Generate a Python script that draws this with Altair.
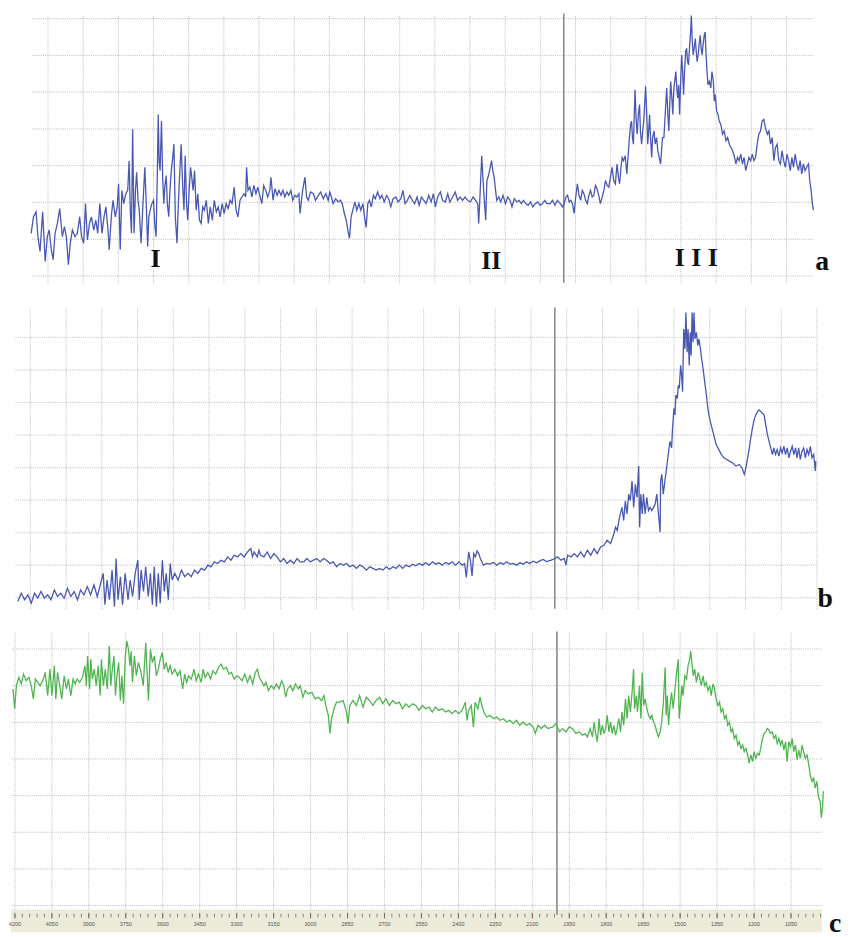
import altair as alt
import pandas as pd

# ---------------- spectrum a : (wavenumber cm-1, absorbance a.u.) ----------------
SPEC_A = [
    (4272,129),(4262,179),(4251,194),(4243,119),(4234,74),(4223,194),(4212,44),(4203,119),(4195,139),(4186,79),
    (4178,49),(4170,129),(4160,159),(4150,204),(4139,119),(4130,149),(4122,119),(4113,34),(4105,99),(4096,139),
    (4085,119),(4075,129),(4065,179),(4057,119),(4048,99),(4040,219),(4032,109),(4023,159),(4015,179),(4005,139),
    (3996,169),(3988,129),(3979,219),(3970,129),(3961,179),(3953,209),(3944,139),(3939,79),(3930,179),(3923,229),
    (3913,179),(3905,209),(3899,279),(3892,79),(3885,259),(3877,219),(3868,249),(3860,259),(3854,349),(3849,199),
    (3844,129),(3839,444),(3833,129),(3827,259),(3822,314),(3816,229),(3811,199),(3803,99),(3795,219),(3787,329),
    (3781,219),(3775,89),(3770,179),(3764,199),(3757,219),(3750,229),(3744,149),(3739,119),(3734,299),(3730,489),
    (3726,349),(3722,319),(3716,469),(3711,299),(3706,219),(3702,269),(3696,304),(3691,219),(3685,179),(3680,259),
    (3674,319),(3668,359),(3663,399),(3657,179),(3650,99),(3644,219),(3639,299),(3632,399),(3626,279),(3620,199),
    (3615,364),(3609,219),(3604,169),(3598,259),(3592,329),(3587,299),(3581,259),(3575,319),(3568,199),(3561,249),
    (3554,169),(3547,159),(3540,209),(3533,199),(3525,229),(3516,159),(3508,209),(3499,169),(3491,229),(3482,194),
    (3474,209),(3466,179),(3457,219),(3449,189),(3440,219),(3432,204),(3423,229),(3415,219),(3406,269),(3398,199),
    (3390,179),(3381,229),(3373,239),(3364,249),(3357,239),(3353,329),(3347,259),(3339,269),(3330,239),(3322,274),
    (3313,249),(3305,269),(3297,244),(3288,219),(3280,274),(3271,259),(3263,239),(3254,259),(3249,299),(3240,229),
    (3232,264),(3223,244),(3215,259),(3206,244),(3198,259),(3190,239),(3181,254),(3173,244),(3164,259),(3156,229),
    (3147,244),(3139,239),(3130,249),
    (3125,189),(3114,259),(3104,299),(3097,239),(3090,229),(3080,254),(3068,249),(3059,229),(3047,244),(3037,254),
    (3026,234),(3015,249),(3005,229),(2998,254),(2991,239),(2984,219),(2973,234),(2963,224),(2953,229),(2945,219),
    (2936,189),(2928,169),(2921,139),(2914,114),(2907,179),(2900,199),(2891,224),(2883,199),(2874,219),(2866,199),
    (2857,219),(2850,179),(2843,147),(2836,219),(2829,229),(2821,209),(2812,244),(2804,234),(2794,254),(2784,234),
    (2776,244),(2766,224),(2756,244),(2747,234),(2738,209),(2728,234),(2716,239),(2707,224),(2695,234),(2686,259),
    (2677,219),(2667,229),(2657,244),(2646,229),(2636,219),(2626,239),(2617,214),(2607,239),(2597,229),(2587,219),
    (2576,244),(2566,224),(2556,249),(2548,209),(2538,239),(2526,254),(2517,229),(2505,224),(2495,249),(2486,224),
    (2474,239),(2463,254),(2453,229),(2442,239),(2432,229),(2421,239),(2410,229),(2398,224),(2387,239),(2376,229),
    (2367,219),(2363,159),(2357,249),(2350,364),(2345,299),(2339,229),(2333,169),(2328,289),(2321,304),(2314,329),
    (2308,349),(2303,319),(2297,299),(2291,259),(2286,229),(2277,239),(2269,224),(2259,244),(2249,219),(2239,239),
    (2229,229),(2221,209),(2211,234),(2201,224),(2191,229),(2181,219),(2172,229),(2162,219),(2152,214),(2142,224),
    (2132,209),(2122,219),(2111,224),(2101,214),(2091,219),(2081,229),(2072,219),
    (2058,219),(2048,229),(2038,214),(2027,229),(2015,219),(2005,209),(1998,219),(1991,239),(1984,244),(1977,224),
    (1970,229),(1963,219),(1956,189),(1949,239),(1942,279),(1935,244),(1928,229),(1921,259),(1914,249),(1907,229),
    (1900,219),(1893,244),(1886,259),(1879,239),(1872,244),(1865,274),(1858,264),(1851,244),(1844,219),(1836,239),
    (1829,259),(1822,289),(1815,274),(1808,269),(1801,299),(1794,329),(1787,289),(1780,279),(1773,339),(1767,299),
    (1762,279),(1756,329),(1751,359),(1745,349),(1738,364),(1731,309),(1725,369),(1720,419),(1715,459),(1711,469),
    (1707,419),(1703,399),(1698,519),(1696,564),(1691,469),(1687,429),(1682,489),(1677,519),(1673,439),(1668,399),
    (1663,439),(1659,469),(1655,519),(1651,574),(1646,489),(1642,399),(1638,439),(1634,489),(1630,419),(1625,359),
    (1621,419),(1615,439),(1610,399),(1604,419),(1599,379),(1593,359),(1587,339),(1583,379),(1579,419),(1573,419),
    (1569,469),(1565,519),(1561,569),(1556,489),(1552,439),(1548,519),(1544,589),(1539,539),(1535,489),(1531,559),
    (1527,589),(1522,619),(1518,569),(1514,539),(1510,579),(1506,489),(1501,599),(1497,669),(1493,619),(1489,549),
    (1485,619),(1480,679),(1476,689),(1472,649),(1468,639),(1463,699),(1459,739),(1456,789),(1452,709),(1448,669),
    (1444,689),(1439,719),(1435,679),(1431,649),(1427,669),(1423,699),(1418,729),(1414,689),(1410,669),(1406,699),
    (1401,729),(1397,739),(1393,669),(1389,619),(1385,579),(1379,589),(1373,569),(1368,619),(1362,589),(1358,529),
    (1354,549),(1348,499),(1342,489),(1337,469),(1330,459),(1323,429),(1316,439),(1308,409),(1301,419),(1294,399),
    (1287,389),(1280,379),(1273,364),(1266,339),(1259,359),(1252,349),(1245,369),(1238,339),(1231,359),(1224,319),
    (1217,339),(1210,359),(1203,349),(1196,369),(1189,349),(1182,359),(1175,399),(1168,429),(1161,439),(1154,469),
    (1147,474),(1140,449),(1132,429),(1125,439),(1118,399),(1111,419),(1104,349),(1097,389),(1090,399),(1083,349),
    (1076,339),(1069,379),(1062,349),(1055,329),(1048,369),(1041,349),(1034,319),(1027,359),(1020,329),(1013,369),
    (1006,339),(999,319),(992,349),(985,309),(978,339),(971,319),(964,329),(956,339),(951,289),(945,259),
    (940,219),(935,199),
]

# ---------------- spectrum b ----------------
SPEC_B = [
    (4252,-11),(4238,14),(4224,-6),(4210,9),(4196,-16),(4182,14),(4169,-1),(4155,19),(4141,-1),(4127,9),
    (4113,-6),(4099,24),(4086,4),(4072,14),(4058,-1),(4044,29),(4030,4),(4016,19),(4002,-6),(3989,24),
    (3975,9),(3961,34),(3947,9),(3933,39),(3919,4),(3905,44),(3894,74),(3887,-21),(3878,54),(3868,-6),
    (3857,84),(3847,-27),(3840,119),(3832,-6),(3822,64),(3813,-21),(3802,74),(3790,-6),(3781,54),(3771,4),
    (3760,74),(3749,114),(3743,-6),(3735,84),(3725,19),(3716,94),(3705,4),(3696,74),(3688,-21),(3680,94),
    (3671,-27),(3663,74),(3655,-16),(3646,114),(3638,19),(3630,74),(3621,-6),(3613,104),(3605,54),(3594,74),
    (3580,54),(3566,84),(3552,64),(3538,74),(3525,64),(3511,84),(3497,74),(3483,89),(3469,84),(3455,99),
    (3442,94),(3428,109),(3414,104),(3400,114),(3386,109),(3372,124),(3358,114),(3345,129),(3331,124),(3317,134),
    (3303,124),(3289,139),(3275,149),(3268,124),(3261,139),(3248,124),(3241,144),(3234,129),(3220,124),(3206,139),
    (3192,119),(3178,134),(3165,124),(3151,109),(3137,119),(3123,104),(3109,114),(3095,104),(3081,119),(3068,109),
    (3053,109),(3040,119),(3026,109),(3012,114),(2998,119),(2984,109),(2970,119),(2957,114),(2943,104),(2929,109),
    (2915,94),(2901,104),(2887,99),(2873,104),(2860,94),(2846,99),(2832,89),(2818,99),(2804,94),(2790,84),
    (2776,94),(2763,89),(2749,84),(2735,89),(2721,84),(2707,94),(2693,86),(2679,94),(2666,89),(2652,99),
    (2638,89),(2624,99),(2610,94),(2596,102),(2583,97),(2569,104),(2555,99),(2541,106),(2527,99),(2513,109),
    (2499,102),(2486,106),(2472,99),(2458,107),(2444,102),(2430,109),(2416,99),(2402,109),(2389,99),(2378,104),
    (2371,62),(2361,139),(2354,114),(2347,66),(2340,134),(2333,124),(2326,142),(2319,134),(2312,119),(2306,109),
    (2299,99),(2285,104),(2271,102),(2257,107),(2243,99),(2229,106),(2215,102),(2202,109),(2188,102),(2174,104),
    (2160,99),(2146,106),(2132,102),(2119,109),(2105,104),(2091,111),(2077,106),(2063,112),(2049,116),(2035,110),
    (2015,114),(1999,119),(1988,124),(1974,114),(1960,119),(1953,99),(1946,129),(1932,124),(1918,134),(1905,124),
    (1891,139),(1877,124),(1863,144),(1849,129),(1835,149),(1822,134),(1808,154),(1794,159),(1780,174),(1766,164),
    (1752,194),(1745,214),(1738,204),(1731,234),(1725,254),(1718,274),(1711,234),(1704,294),(1697,254),(1690,314),
    (1683,294),(1676,354),(1669,274),(1662,344),(1655,304),(1648,399),(1644,214),(1639,314),(1633,254),(1628,314),
    (1621,254),(1614,304),(1607,264),(1600,274),(1593,264),(1586,274),(1579,284),(1572,314),(1565,254),(1558,199),
    (1556,354),(1551,374),(1545,314),(1538,354),(1531,394),(1524,434),(1517,474),(1510,454),(1506,514),(1500,574),
    (1496,554),(1492,614),(1486,604),(1482,644),(1478,634),(1472,704),(1468,674),(1464,624),(1459,814),(1454,754),
    (1450,864),(1445,744),(1441,814),(1436,704),(1432,804),(1428,734),(1424,864),(1420,774),(1416,864),(1412,784),
    (1406,804),(1400,764),(1395,784),(1389,754),(1384,724),(1378,694),(1371,654),(1364,614),(1358,574),(1351,544),
    (1344,524),(1337,504),(1330,484),(1323,464),(1312,449),(1301,434),(1290,424),(1279,419),(1268,414),(1254,409),
    (1240,399),(1226,404),(1215,394),(1205,374),(1198,394),(1191,424),(1184,454),(1178,484),(1171,514),(1164,539),
    (1157,554),(1150,564),(1143,569),(1136,564),(1129,559),(1122,554),(1115,524),(1108,494),(1101,474),(1094,454),
    (1087,434),(1081,454),(1074,434),(1067,449),(1060,429),(1053,454),(1046,439),(1039,459),(1032,434),(1025,454),
    (1018,424),(1011,444),(1004,459),(997,434),(990,454),(984,424),(977,454),(970,419),(963,444),(956,454),
    (949,424),(942,449),(935,434),(928,459),(921,424),(914,434),(907,384),(905,414),
]

# ---------------- spectrum c ----------------
SPEC_C = [
    (4208,656),(4201,596),(4194,666),(4184,691),(4174,671),(4165,701),(4154,681),(4143,691),(4134,666),(4125,626),
    (4117,686),(4107,676),(4098,666),(4087,681),(4077,706),(4067,636),(4058,716),(4050,636),(4040,726),(4034,626),
    (4027,706),(4018,666),(4010,626),(4000,696),(3991,656),(3983,686),(3973,636),(3964,686),(3956,671),(3947,686),
    (3937,676),(3926,691),(3916,726),(3910,666),(3905,756),(3897,656),(3892,746),(3886,686),(3878,716),(3870,666),
    (3862,726),(3854,636),(3849,746),(3841,666),(3833,716),(3825,656),(3817,786),(3811,666),(3806,706),(3798,756),
    (3792,636),(3786,696),(3779,736),(3772,621),(3766,696),(3759,611),(3752,756),(3746,801),(3739,776),(3733,726),
    (3728,771),(3723,676),(3715,756),(3707,696),(3699,736),(3688,706),(3679,666),(3669,796),(3664,716),(3658,621),
    (3650,776),(3642,736),(3634,756),(3626,696),(3618,716),(3610,746),(3602,766),(3594,716),(3586,736),(3578,706),
    (3570,726),(3562,701),(3551,716),(3540,696),(3530,711),(3519,656),(3511,701),(3503,676),(3495,696),(3484,686),
    (3473,716),(3464,681),(3455,701),(3444,676),(3436,716),(3428,691),(3417,706),(3406,686),(3396,711),(3385,701),
    (3374,721),(3364,731),(3353,716),(3342,721),(3331,701),(3321,706),(3310,686),(3299,696),(3289,691),(3278,681),
    (3267,701),(3256,676),(3246,696),(3235,671),(3224,706),(3216,716),(3208,691),(3200,681),(3189,666),(3181,676),
    (3171,651),(3160,666),(3149,656),(3139,671),(3128,656),(3117,681),(3109,666),(3101,631),(3093,656),(3082,666),
    (3072,651),(3061,671),(3050,656),(3042,666),
    (3031,631),(3022,651),(3009,641),(2995,646),(2982,626),(2968,631),(2955,621),(2946,636),(2938,606),(2928,576),
    (2921,521),(2915,566),(2905,596),(2895,616),(2881,616),(2868,621),(2854,586),(2848,551),(2841,606),(2828,621),
    (2814,606),(2801,636),(2787,601),(2774,631),(2761,621),(2747,606),(2734,621),(2720,631),(2707,611),(2694,626),
    (2680,606),(2667,621),(2653,611),(2640,616),(2627,596),(2613,611),(2600,601),(2586,611),(2573,606),(2560,591),
    (2546,606),(2533,596),(2519,601),(2506,586),(2493,601),(2479,591),(2466,596),(2452,586),(2439,591),(2426,581),
    (2412,591),(2399,581),(2385,591),(2372,616),(2365,561),(2359,591),(2348,606),(2339,541),(2332,616),(2321,596),
    (2312,631),(2305,606),(2294,581),(2284,571),(2272,576),(2258,566),(2245,571),(2231,561),(2218,566),(2204,556),
    (2191,561),(2178,551),(2164,561),(2151,546),(2138,556),(2124,546),(2111,551),(2097,541),(2088,521),(2077,546),
    (2064,536),(2050,546),(2037,536),
    (2017,541),(2004,551),(1990,526),(1977,536),(1963,526),(1950,541),(1937,536),(1923,521),(1910,526),(1896,516),
    (1887,521),(1876,511),(1865,536),(1856,511),(1849,556),(1843,521),(1836,496),(1829,566),(1823,516),(1816,546),
    (1809,521),(1803,536),(1796,576),(1789,526),(1782,556),(1776,521),(1769,546),(1762,516),(1756,536),(1749,566),
    (1742,526),(1736,586),(1729,546),(1722,626),(1715,566),(1709,636),(1702,586),(1695,646),(1689,716),(1685,596),
    (1678,636),(1673,586),(1665,666),(1659,566),(1654,706),(1648,606),(1642,626),(1635,596),(1628,576),(1622,566),
    (1615,576),(1608,556),(1602,546),(1595,526),(1588,511),(1581,526),(1575,556),(1568,616),(1561,721),(1557,576),
    (1552,636),(1547,546),(1541,606),(1535,646),(1528,596),(1521,656),(1514,706),(1508,746),(1504,566),(1498,616),
    (1493,666),(1488,636),(1481,696),(1474,686),(1468,726),(1461,746),(1457,771),(1451,726),(1447,696),(1441,716),
    (1434,676),(1427,706),(1421,691),(1414,666),(1407,696),(1401,666),(1394,676),(1387,651),(1380,666),(1374,636),
    (1367,671),(1360,656),(1354,626),(1347,606),(1340,616),(1334,586),(1327,596),(1320,566),(1313,576),(1307,546),
    (1300,556),(1293,526),(1287,536),(1280,506),(1273,516),(1266,486),(1260,496),(1253,476),(1246,486),(1240,466),
    (1233,476),(1226,456),(1220,431),(1213,456),(1206,436),(1200,466),(1193,446),(1186,461),(1179,456),(1173,476),
    (1166,506),(1159,521),(1153,526),(1146,536),(1139,531),(1133,521),(1126,526),(1119,506),(1112,516),(1106,491),
    (1099,506),(1092,486),(1086,501),(1079,471),(1072,496),(1066,436),(1059,496),(1052,481),(1045,506),(1039,466),
    (1032,486),(1025,441),(1019,471),(1012,446),(1005,486),(999,466),(992,446),(985,456),(978,426),(972,396),
    (965,376),(958,386),(952,356),(945,376),(938,326),(932,316),(927,266),(922,296),(919,346),
]

# ---------------- axis / grid values ----------------
TICK_LABELS = [4200, 4050, 3900, 3750, 3600, 3450, 3300, 3150, 3000, 2850, 2700,
               2550, 2400, 2250, 2100, 1950, 1800, 1650, 1500, 1350, 1200, 1050]
MINOR_STEP = 30
MARKER_WN = 2000
GRID_I_A = [0, 111, 223, 334, 445, 557, 668, 779]
GRID_I_B = [0, 99, 197, 296, 394, 493, 592, 690, 789]
GRID_I_C = [0, 111, 222, 333, 444, 555, 666, 777]
ROMAN = ["I", "II", "I I I"]
ROMAN_WN = [3741, 2309, 1435]
ROMAN_I = [27, 21, 30]

BLUE = "#4858b2"
GREEN = "#50b450"
GRID_COLOR = "#b8b8b8"
MARK_COLOR = "#8a8a8a"
BAND_COLOR = "#ecead9"
W = 840


def make_panel(spec, color, xdom, ydom, height, frame_x, frame_y, grid_wn, grid_i,
               marker_y, letter, letter_pos, extra_front=None, extra_back=None):
    xs = alt.Scale(domain=[min(xdom), max(xdom)], reverse=True, nice=False, zero=False)
    ys = alt.Scale(domain=list(ydom), nice=False, zero=False)

    def X(f):
        return alt.X(f"{f}:Q", scale=xs, axis=None)

    def Y(f):
        return alt.Y(f"{f}:Q", scale=ys, axis=None)

    hdf = pd.DataFrame({"i": grid_i, "x0": frame_x[0], "x1": frame_x[1]})
    vdf = pd.DataFrame({"wn": grid_wn, "y0": frame_y[0], "y1": frame_y[1]})
    mdf = pd.DataFrame({"wn": [MARKER_WN], "y0": [marker_y[0]], "y1": [marker_y[1]]})
    sdf = pd.DataFrame({"wn": [p[0] for p in spec], "v": [p[1] for p in spec],
                        "idx": list(range(len(spec)))})
    ldf = pd.DataFrame({"t": [letter], "wn": [letter_pos[0]], "v": [letter_pos[1]]})

    layers = []
    if extra_back is not None:
        layers += extra_back(X, Y)
    layers.append(alt.Chart(hdf).mark_rule(color=GRID_COLOR, strokeWidth=1, strokeDash=[1, 1.2])
                  .encode(x=X("x0"), x2="x1", y=Y("i")))
    layers.append(alt.Chart(vdf).mark_rule(color=GRID_COLOR, strokeWidth=1, strokeDash=[1, 1.2])
                  .encode(x=X("wn"), y=Y("y0"), y2="y1"))
    layers.append(alt.Chart(mdf).mark_rule(color=MARK_COLOR, strokeWidth=1.6)
                  .encode(x=X("wn"), y=Y("y0"), y2="y1"))
    layers.append(alt.Chart(sdf).mark_line(color=color, strokeWidth=1.3)
                  .encode(x=X("wn"), y=Y("v"), order="idx:Q"))
    if extra_front is not None:
        layers += extra_front(X, Y)
    layers.append(alt.Chart(ldf).mark_text(font="Liberation Serif", fontWeight="bold", fontSize=28,
                                           align="center", baseline="alphabetic", color="#111")
                  .encode(x=X("wn"), y=Y("v"), text="t:N"))
    return alt.layer(*layers).properties(width=W, height=height)


def roman_layer(X, Y):
    rdf = pd.DataFrame({"t": ROMAN, "wn": ROMAN_WN, "v": ROMAN_I})
    return [alt.Chart(rdf).mark_text(font="Liberation Serif", fontWeight="bold", fontSize=26,
                                     align="center", baseline="alphabetic", color="#111")
            .encode(x=X("wn"), y=Y("v"), text="t:N")]


def band_back(X, Y):
    bdf = pd.DataFrame({"x0": [924], "x1": [4216], "y0": [-81], "y1": [-12]})
    return [alt.Chart(bdf).mark_rect(color=BAND_COLOR)
            .encode(x=X("x0"), x2="x1", y=Y("y0"), y2="y1")]


def band_front(X, Y):
    minor = list(range(TICK_LABELS[0], 925, -MINOR_STEP))
    tdf = pd.DataFrame({"wn": minor, "y0": -36, "y1": -25})
    majdf = pd.DataFrame({"wn": TICK_LABELS, "y0": -39, "y1": -22,
                          "lab": [str(v) for v in TICK_LABELS], "ly": -57})
    return [
        alt.Chart(tdf).mark_rule(color="#6a6a6a", strokeWidth=0.8)
        .encode(x=X("wn"), y=Y("y0"), y2="y1"),
        alt.Chart(majdf).mark_rule(color="#6a6a6a", strokeWidth=0.9)
        .encode(x=X("wn"), y=Y("y0"), y2="y1"),
        alt.Chart(majdf).mark_text(font="Liberation Sans", fontSize=5.5, color="#555",
                                   align="center", baseline="middle")
        .encode(x=X("wn"), y=Y("ly"), text="lab:N"),
    ]


panel_a = make_panel(SPEC_A, BLUE, (4358, 809), (-21, 795), 272,
                     (936, 4274), (-21, 790), TICK_LABELS, GRID_I_A,
                     (-21, 795), "a", (898, 18), extra_front=roman_layer)

panel_b = make_panel(SPEC_B, BLUE, (4281, 791), (-36, 894), 310,
                     (903, 4262), (-33, 879), TICK_LABELS + [900], GRID_I_B,
                     (-33, 879), "b", (866, -27))

panel_c = make_panel(SPEC_C, GREEN, (4216, 839), (-85, 836), 307,
                     (926, 4216), (-12, 830), TICK_LABELS, GRID_I_C,
                     (-28, 830), "c", (871, -79),
                     extra_front=band_front, extra_back=band_back)

chart = (alt.vconcat(panel_a, panel_b, panel_c, spacing=20, bounds="flush")
         .properties(padding=0, background="white")
         .configure_view(stroke=None))

chart.save("out.html", embed_options={"renderer": "svg", "actions": False})
